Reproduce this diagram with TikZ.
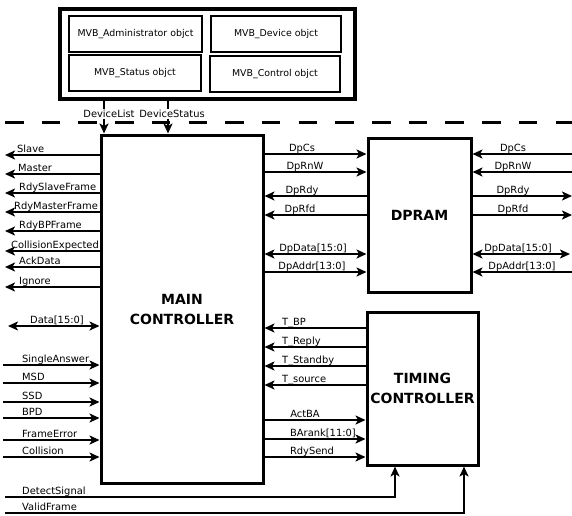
\documentclass[tikz,border=0pt]{standalone}
\usepackage{fontspec}
\setmainfont{DejaVu Sans}
\usetikzlibrary{arrows.meta}
\begin{document}
\begin{tikzpicture}[x=1pt,y=-1pt,
  sig/.style={line width=2.2pt},
  tip/.style={-{Stealth[length=10pt,width=9pt,inset=2.5pt]}},
  dtip/.style={{Stealth[length=10pt,width=9pt,inset=2.5pt]}-{Stealth[length=10pt,width=9pt,inset=2.5pt]}},
  lbl/.style={font=\fontsize{9.9}{11}\selectfont, inner sep=0pt},
  block/.style={draw, line width=3pt, inner sep=0pt, align=center,
    font=\fontsize{14}{20}\selectfont\bfseries},
  obj/.style={draw, line width=2pt, inner sep=0pt, minimum width=131pt, minimum height=36pt,
    font=\fontsize{9.4}{11}\selectfont}
]
\useasboundingbox (0,0) rectangle (572,515);

% top object box
\node[draw, line width=4pt, minimum width=295pt, minimum height=90pt, inner sep=0pt] (outer) at (207.5,54) {};
\node[obj, minimum width=133pt] (adm) at (135.5,34) {MVB\_Administrator objct};
\node[obj, minimum width=130pt] (dev) at (276,34) {MVB\_Device objct};
\node[obj, minimum width=132pt] (sta) at (135,73) {MVB\_Status objct};
\node[obj, minimum width=130pt] (ctl) at (275,74) {MVB\_Control objct};

% dashed separator
\coordinate (dashL) at (5,122);
\coordinate (dashR) at (572,122);
\draw[line width=3pt, dash pattern=on 18.5pt off 18.2pt] (dashL) -- (dashR);

% blocks
\node[block, minimum width=162pt, minimum height=348pt] (main) at (182,309) {MAIN\\CONTROLLER};
\node[block, minimum width=103pt, minimum height=154pt] (dpram) at (419.5,215) {DPRAM};
\node[block, minimum width=111pt, minimum height=153pt] (timing) at (422.5,388.5) {TIMING\\CONTROLLER};

% DeviceList / DeviceStatus
\coordinate (dlx) at (104,0);
\coordinate (dsx) at (168,0);
\draw[sig,tip] (outer.south -| dlx) -- (main.north -| dlx);
\draw[sig,tip] (outer.south -| dsx) -- (main.north -| dsx);
\node[lbl, fill=white, inner sep=1pt] (dll) at (109,114) {DeviceList};
\node[lbl, fill=white, inner sep=1pt] (dsl) at (172,114) {DeviceStatus};

% left outputs
\foreach \y/\lx/\t [count=\i] in {155/17/Slave,174/18/Master,193/19/RdySlaveFrame,212/14/RdyMasterFrame,231/19/RdyBPFrame,251/11/CollisionExpected,267/19/AckData,287/19/Ignore}{
  \coordinate (lo\i) at (5,\y);
  \draw[sig,tip] (main.west |- lo\i) -- (lo\i);
  \node[lbl,anchor=base west] (lol\i) at (\lx,\y-2.5) {\t};
}

% data bus
\coordinate (dat) at (8,326);
\draw[sig,dtip] (dat) -- (main.west |- dat);
\node[lbl,anchor=base] (datl) at (57,323.5) {Data[15:0]};

% left inputs
\foreach \y/\t [count=\i] in {365/SingleAnswer,383/MSD,402/SSD,418/BPD,440/FrameError,457/Collision}{
  \coordinate (li\i) at (3,\y);
  \draw[sig,tip] (li\i) -- (main.west |- li\i);
  \node[lbl,anchor=base west] (lil\i) at (22,\y-2.5) {\t};
}

% bottom signals to timing
\coordinate (det) at (5,497);
\coordinate (detx) at (395,0);
\draw[sig,tip] (det) -| (timing.south -| detx);
\node[lbl,anchor=base west] (detl) at (22,494) {DetectSignal};
\coordinate (val) at (5,513);
\coordinate (valx) at (464,0);
\draw[sig,tip] (val) -| (timing.south -| valx);
\node[lbl,anchor=base west] (vall) at (22,510) {ValidFrame};

% main <-> DPRAM
\foreach \y/\cx/\t/\d [count=\i] in {154/302/DpCs/r,172/305/DpRnW/r,196/302/DpRdy/l,215/300/DpRfd/l,254/313/{DpData[15:0]}/b,272/312/{DpAddr[13:0]}/r}{
  \coordinate (md\i) at (main.east |- 0,\y);
  \if r\d \draw[sig,tip] (md\i) -- (dpram.west |- md\i);\fi
  \if l\d \draw[sig,tip] (dpram.west |- md\i) -- (md\i);\fi
  \if b\d \draw[sig,dtip] (md\i) -- (dpram.west |- md\i);\fi
  \node[lbl,anchor=base] (mdl\i) at (\cx,\y-2.5) {\t};
}

% DPRAM <-> right side
\foreach \y/\cx/\t/\d/\ex [count=\i] in {154/513/DpCs/l/572,172/513/DpRnW/l/572,196/513/DpRdy/r/572,215/513/DpRfd/r/572,254/518/{DpData[15:0]}/b/570,272/522/{DpAddr[13:0]}/l/572}{
  \coordinate (rd\i) at (\ex,\y);
  \if r\d \draw[sig,tip] (dpram.east |- rd\i) -- (rd\i);\fi
  \if l\d \draw[sig,tip] (rd\i) -- (dpram.east |- rd\i);\fi
  \if b\d \draw[sig,dtip] (dpram.east |- rd\i) -- (rd\i);\fi
  \node[lbl,anchor=base] (rdl\i) at (\cx,\y-2.5) {\t};
}

% timing -> main
\foreach \y/\t [count=\i] in {328/T\_BP,347/T\_Reply,366/T\_Standby,385/T\_source}{
  \coordinate (tm\i) at (main.east |- 0,\y);
  \draw[sig,tip] (timing.west |- tm\i) -- (tm\i);
  \node[lbl,anchor=base west] (tml\i) at (282,\y-2.5) {\t};
}
% main -> timing
\foreach \y/\cx/\t [count=\i] in {420/305/ActBA,439/323/{BArank[11:0]},457/312/RdySend}{
  \coordinate (mt\i) at (main.east |- 0,\y);
  \draw[sig,tip] (mt\i) -- (timing.west |- mt\i);
  \node[lbl,anchor=base] (mtl\i) at (\cx,\y-2.5) {\t};
}
\end{tikzpicture}
\end{document}
